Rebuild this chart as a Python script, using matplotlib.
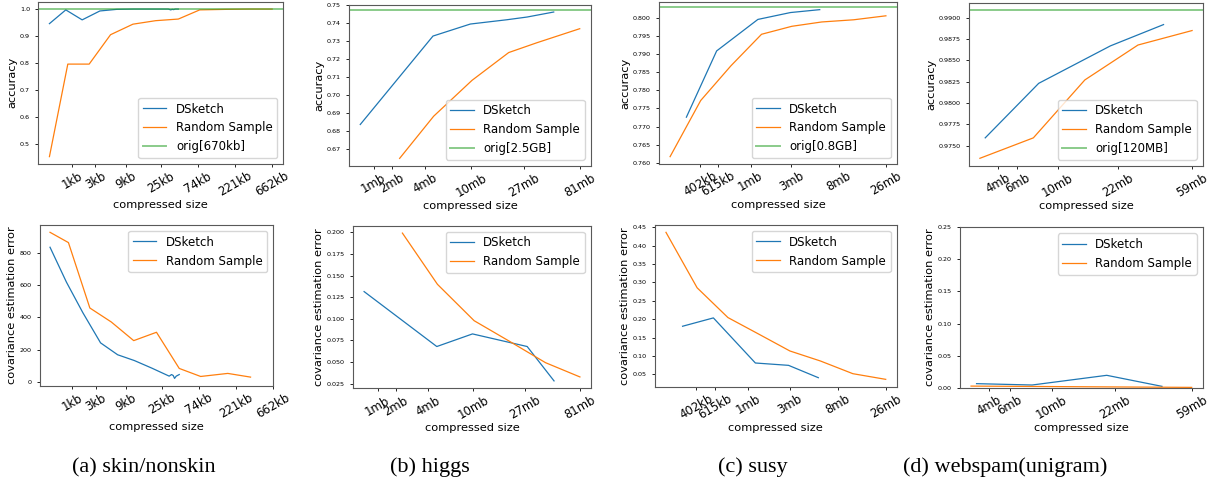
import matplotlib
matplotlib.use("Agg")
import matplotlib.pyplot as plt
from matplotlib.ticker import MultipleLocator

# ---- data (x = position on the compressed-size axis, arbitrary units) ----

# (a) skin/nonskin
skin_ticks = [21.5, 28.5, 37.6, 48.2, 59.3, 70.4, 81.5]
skin_labels = ["1kb", "3kb", "9kb", "25kb", "74kb", "221kb", "662kb"]
skin_ds_x = [14.8, 19.7, 24.6, 29.9, 35.0, 40.0, 45.2, 50.4, 51.1, 51.6, 52.0, 52.5, 53.4]
skin_ds_acc = [0.946, 0.997, 0.960, 0.993, 0.999, 1.0, 1.0, 1.0, 0.997, 0.999, 0.998, 1.0, 1.0]
skin_ds_err = [837, 620, 430, 242, 168, 132, 85, 35, 45, 39, 21, 35, 45]
skin_rs_x = [14.8, 20.3, 26.7, 33.1, 39.8, 46.6, 53.4, 59.8, 67.9, 74.7, 81.5]
skin_rs_acc = [0.453, 0.796, 0.796, 0.905, 0.944, 0.957, 0.963, 0.997, 0.999, 1.0, 1.0]
skin_rs_err = [930, 866, 459, 372, 256, 308, 83, 33, 52, 29]
skin_orig = 1.0
skin_orig_label = "orig[670kb]"

# (b) higgs
higgs_ticks = [22.0, 27.5, 37.5, 51.3, 67.0, 83.8]
higgs_labels = ["1mb", "2mb", "4mb", "10mb", "27mb", "81mb"]
higgs_ds_acc_x = [18.0, 39.8, 51.0, 62.0, 68.0, 76.0]
higgs_ds_acc = [0.6834, 0.7327, 0.7394, 0.7418, 0.7433, 0.7461]
higgs_ds_err_x = [17.9, 40.1, 51.0, 67.7, 75.9]
higgs_ds_err = [0.1315, 0.0679, 0.0825, 0.0679, 0.0281]
higgs_rs_acc_x = [29.8, 40.0, 51.5, 62.5, 71.0, 83.8]
higgs_rs_acc = [0.6645, 0.688, 0.708, 0.7235, 0.729, 0.7368]
higgs_rs_err_x = [29.6, 40.3, 51.5, 62.5, 73.3, 83.8]
higgs_rs_err = [0.1992, 0.1399, 0.0978, 0.0735, 0.0492, 0.0327]
higgs_orig = 0.747
higgs_orig_label = "orig[2.5GB]"

# (c) susy
susy_ticks = [26.8, 32.3, 42.0, 54.3, 68.5, 82.7]
susy_labels = ["402kb", "615kb", "1mb", "3mb", "8mb", "26mb"]
susy_ds_x = [22.7, 31.8, 44.2, 54.0, 62.8]
susy_ds_acc = [0.7726, 0.7909, 0.7996, 0.8015, 0.8023]
susy_ds_err = [0.1809, 0.2036, 0.0809, 0.0745, 0.0409]
susy_rs_x = [17.8, 27.0, 36.1, 45.3, 54.4, 63.4, 73.0, 82.7]
susy_rs_acc = [0.7617, 0.7772, 0.7868, 0.7955, 0.7977, 0.7989, 0.7995, 0.8006]
susy_rs_err = [0.4364, 0.2855, 0.2045, 0.159, 0.1136, 0.0864, 0.0518, 0.0364]
susy_orig = 0.803
susy_orig_label = "orig[0.8GB]"

# (d) webspam(unigram)
web_ticks = [29.2, 35.2, 47.3, 65.5, 87.8]
web_labels = ["4mb", "6mb", "10mb", "22mb", "59mb"]
web_ds_x = [25.5, 41.6, 63.2, 79.2]
web_ds_acc = [0.9759, 0.9823, 0.9867, 0.9892]
web_ds_err = [0.0063, 0.0042, 0.0193, 0.0021]
web_rs_x = [23.9, 40.0, 55.5, 71.5, 87.8]
web_rs_acc = [0.9735, 0.9759, 0.9827, 0.9868, 0.9885]
web_rs_err = [0.0025, 0.0020, 0.0015, 0.0010, 0.0005]
web_orig = 0.9909
web_orig_label = "orig[120MB]"

captions = ["(a) skin/nonskin", "(b) higgs", "(c) susy", "(d) webspam(unigram)"]

# ---- figure ----
W, H = 1215, 480
fig = plt.figure(figsize=(W / 100, H / 100), dpi=100)

BLUE, ORANGE, GREEN = "#1f77b4", "#ff7f0e", "#2ca02c"


def add_ax(l, t, r, b):
    return fig.add_axes([l / W, 1 - b / H, (r - l) / W, (b - t) / H])


def style(ax, ticks, labels, ystep, ylabel, loc):
    ax.yaxis.set_major_locator(MultipleLocator(ystep))
    ax.set_xticks(ticks)
    ax.set_xticklabels(labels, rotation=30, fontsize=8.4)
    ax.tick_params(axis="y", labelsize=4.6, length=2.5, width=0.6)
    ax.tick_params(axis="x", length=2.5, width=0.6, pad=1.5)
    for s in ax.spines.values():
        s.set_linewidth(0.8)
        s.set_color("0.35")
    ax.set_xlabel("compressed size", fontsize=8.2, labelpad=1)
    ax.set_ylabel(ylabel, fontsize=8.2, labelpad=2)
    ax.legend(loc=loc, fontsize=8.5)


def acc_panel(rect, dsx, dsy, rsx, rsy, orig, orig_label, ticks, labels, ystep):
    ax = add_ax(*rect)
    ax.plot(dsx, dsy, color=BLUE, lw=0.9, label="DSketch")
    ax.plot(rsx, rsy, color=ORANGE, lw=0.9, label="Random Sample")
    ax.axhline(orig, color=GREEN, lw=1.4, alpha=0.55, label=orig_label)
    style(ax, ticks, labels, ystep, "accuracy", "lower right")
    return ax


def err_panel(rect, dsx, dsy, rsx, rsy, ticks, labels, ystep, ylim=None):
    ax = add_ax(*rect)
    ax.plot(dsx, dsy, color=BLUE, lw=0.9, label="DSketch")
    ax.plot(rsx, rsy, color=ORANGE, lw=0.9, label="Random Sample")
    if ylim:
        ax.set_ylim(*ylim)
    style(ax, ticks, labels, ystep, "covariance estimation error", "upper right")
    return ax


acc_panel((38.3, 1.7, 283.3, 164), skin_ds_x, skin_ds_acc, skin_rs_x, skin_rs_acc,
          skin_orig, skin_orig_label, skin_ticks, skin_labels, 0.1)
acc_panel((349.3, 4.7, 590.7, 165.7), higgs_ds_acc_x, higgs_ds_acc, higgs_rs_acc_x, higgs_rs_acc,
          higgs_orig, higgs_orig_label, higgs_ticks, higgs_labels, 0.01)
acc_panel((659.3, 2.3, 896.7, 164), susy_ds_x, susy_ds_acc, susy_rs_x, susy_rs_acc,
          susy_orig, susy_orig_label, susy_ticks, susy_labels, 0.005)
acc_panel((969.3, 2.7, 1202.7, 165.7), web_ds_x, web_ds_acc, web_rs_x, web_rs_acc,
          web_orig, web_orig_label, web_ticks, web_labels, 0.0025)

err_panel((40, 225, 273.3, 385.7), skin_ds_x, skin_ds_err, skin_rs_x[:len(skin_rs_err)], skin_rs_err,
          skin_ticks, skin_labels, 200)
err_panel((353.3, 225.7, 590.7, 388.3), higgs_ds_err_x, higgs_ds_err, higgs_rs_err_x, higgs_rs_err,
          higgs_ticks, higgs_labels, 0.025)
err_panel((655, 225, 896.7, 386.7), susy_ds_x, susy_ds_err, susy_rs_x, susy_rs_err,
          susy_ticks, susy_labels, 0.05)
err_panel((960, 227.3, 1202.7, 387.7), web_ds_x, web_ds_err, web_rs_x, web_rs_err,
          web_ticks, web_labels, 0.05, ylim=(0, 0.25))

for cx, txt in zip([144, 430, 753, 1005], captions):
    fig.text(cx / W, 1 - 472 / H, txt, ha="center", va="baseline",
             fontsize=16, family="Liberation Serif")

fig.savefig("out.png", dpi=100)
